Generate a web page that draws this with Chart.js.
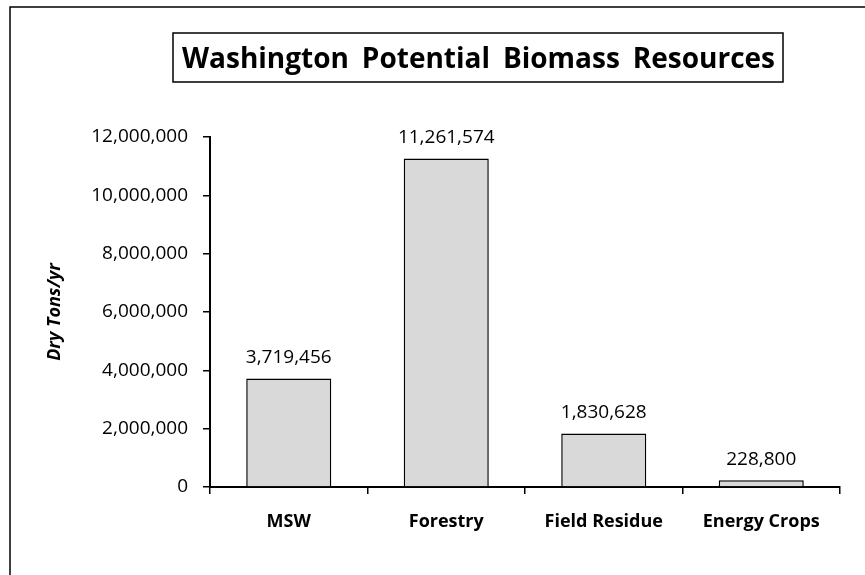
<!DOCTYPE html>
<html><head><meta charset="utf-8">
<script src="https://cdn.jsdelivr.net/npm/chart.js@4"></script>
<style>html,body{margin:0;padding:0;background:#fff;overflow:hidden;} #wrap{width:865px;height:575px;}</style>
</head><body>
<div id="wrap"><canvas id="c" width="865" height="575"></canvas></div>
<script>
const chartTitle = 'Washington Potential Biomass Resources';
const categories = ['MSW', 'Forestry', 'Field Residue', 'Energy Crops'];
const values = [3719456, 11261574, 1830628, 228800];
const yTicks = [0, 2000000, 4000000, 6000000, 8000000, 10000000, 12000000];
const yAxisTitle = 'Dry Tons/yr';

const FONT = '"Open Sans", "Liberation Sans", sans-serif';
const fmt = v => Number(v).toLocaleString('en-US');

const framePlugin = {
  id: 'frame',
  beforeDraw(chart) {
    const ctx = chart.ctx;
    ctx.save();
    ctx.fillStyle = '#fff';
    ctx.fillRect(0, 0, chart.width, chart.height);
    ctx.strokeStyle = '#000';
    ctx.lineWidth = 1.5;
    ctx.strokeRect(10, 7, chart.width + 20, chart.height + 20);
    ctx.restore();
  }
};

const titleBoxPlugin = {
  id: 'titleBox',
  afterDraw(chart) {
    const ctx = chart.ctx;
    ctx.save();
    ctx.strokeStyle = '#000';
    ctx.lineWidth = 1.5;
    ctx.strokeRect(173, 33, 610, 49);
    ctx.font = 'bold 28px ' + FONT;
    ctx.fillStyle = '#000';
    ctx.textBaseline = 'alphabetic';
    ctx.textAlign = 'left';
    const words = chartTitle.split(' ');
    const target = 593;
    const widths = words.map(w => ctx.measureText(w).width);
    const total = widths.reduce((a, b) => a + b, 0);
    const gap = (target - total) / (words.length - 1);
    let x = 182;
    words.forEach((w, i) => { ctx.fillText(w, x, 68); x += widths[i] + gap; });
    ctx.restore();
  }
};

const valueLabelPlugin = {
  id: 'valueLabels',
  afterDatasetsDraw(chart) {
    const ctx = chart.ctx;
    const meta = chart.getDatasetMeta(0);
    ctx.save();
    ctx.font = '19px ' + FONT;
    ctx.fillStyle = '#000';
    ctx.textAlign = 'center';
    ctx.textBaseline = 'middle';
    meta.data.forEach((bar, i) => {
      ctx.fillText(fmt(values[i]), bar.x, bar.y - 21);
    });
    ctx.restore();
  }
};

new Chart(document.getElementById('c'), {
  type: 'bar',
  data: {
    labels: categories,
    datasets: [{
      data: values,
      backgroundColor: '#d9d9d9',
      borderColor: '#000',
      borderWidth: 1.5,
      categoryPercentage: 1,
      barPercentage: 0.54
    }]
  },
  options: {
    responsive: false,
    devicePixelRatio: 1,
    animation: false,
    layout: { padding: { top: 137, right: 25, left: 0, bottom: 0 } },
    plugins: { legend: { display: false }, title: { display: false }, tooltip: { enabled: false } },
    scales: {
      x: {
        afterFit(s) { s.height = 88; },
        grid: { offset: true, drawOnChartArea: false, drawTicks: true, tickLength: 7, color: '#000', lineWidth: 1.5 },
        border: { display: true, color: '#000', width: 2 },
        ticks: { color: '#000', padding: 17, font: { family: FONT, size: 18, weight: 'bold' } }
      },
      y: {
        min: 0, max: 12000000,
        afterFit(s) { s.width = 210; },
        afterBuildTicks(s) { s.ticks = yTicks.map(v => ({ value: v })); },
        grid: { drawOnChartArea: false, drawTicks: true, tickLength: 7, color: '#000', lineWidth: 1.5 },
        border: { display: true, color: '#000', width: 2 },
        ticks: { color: '#000', padding: 15, font: { family: FONT, size: 19 }, callback: v => fmt(v) },
        title: { display: true, text: yAxisTitle, color: '#000', padding: { top: 44, bottom: 0 },
                 font: { family: FONT, size: 18, weight: 'bold', style: 'italic' } }
      }
    }
  },
  plugins: [framePlugin, titleBoxPlugin, valueLabelPlugin]
});
</script>
</body></html>
